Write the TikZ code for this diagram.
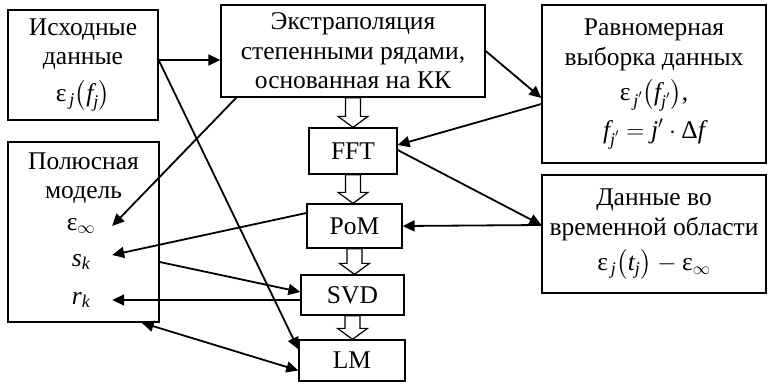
\documentclass[tikz,border=0pt]{standalone}
\usepackage{amsmath}
\usepackage{fontspec}
\setmainfont{Liberation Serif}
\usetikzlibrary{arrows.meta,calc}
\newcommand\ti[1]{\text{\itshape #1}}
\newcommand\eps{\text{ε}}
\newcommand\blockarr[2]{%
  \path let \p1=(#1.south), \p2=(#2.north) in
    [draw, line width=1.2pt, fill=white]
    (\x1-7.5pt,\y1) -- (\x1+7.5pt,\y1) -- (\x1+7.5pt,\y2+11pt) -- (\x1+15pt,\y2+11pt)
    -- (\x1,\y2) -- (\x1-15pt,\y2+11pt) -- (\x1-7.5pt,\y2+11pt) -- cycle;}
\begin{document}
\begin{tikzpicture}[x=1pt,y=-1pt,
  box/.style={draw, line width=1.3pt, inner sep=0pt, align=center,
    font=\fontsize{25.5}{29.5}\selectfont},
  item/.style={inner sep=0pt, minimum width=62pt, align=center,
    font=\fontsize{25.5}{29.5}\selectfont},
  conn/.style={line width=1.8pt, -{Triangle[length=12pt,width=11pt]}},
  conn2/.style={line width=1.8pt, {Triangle[length=12pt,width=11pt]}-{Triangle[length=12pt,width=11pt]}}]
\useasboundingbox (0,0) rectangle (775,383);
\node[box, minimum width=150pt, minimum height=110pt] (A) at (83,65)
  {Исходные\\данные\\[7pt]$\eps_{\,\ti{j}}\bigl(\ti{f}_{\ti{j}}\bigr)$};
\node[box, minimum width=264pt, minimum height=92pt] (B) at (353,51)
  {Экстраполяция\\степенными рядами,\\основанная на КК};
\node[box, minimum width=224pt, minimum height=158pt] (C) at (654,84)
  {Равномерная\\выборка данных\\[6pt]$\eps_{\,\ti{j}'}\bigl(\ti{f}_{\ti{j}'}\bigr)$,\\[7pt]$\ti{f}_{\ti{j}'}=\ti{j}'\cdot\text{Δ}\ti{f}$};
\node[box, minimum width=151pt, minimum height=180pt] (D) at (83.5,232) {};
\node[item] (Dt) at (83.5,178) {Полюсная\\модель};
\node[item] (einf) at (81,226) {$\eps_{\infty}$};
\node[item] (sk) at (81,262) {$\ti{s}_{\ti{k}}$};
\node[item] (rk) at (81,300) {$\ti{r}_{\ti{k}}$};
\node[box, minimum width=88pt, minimum height=46pt] (FFT) at (353,151) {FFT};
\node[box, minimum width=95pt, minimum height=44pt] (PoM) at (354.5,226) {PoM};
\node[box, minimum width=103pt, minimum height=40pt] (SVD) at (352.5,295) {SVD};
\node[box, minimum width=106pt, minimum height=41pt] (LM) at (352,360.5) {LM};
\node[box, minimum width=224pt, minimum height=118pt] (E) at (654,234)
  {Данные во\\временной области\\[6pt]$\eps_{\,\ti{j}}\bigl(\ti{t}_{\ti{j}}\bigr)-\eps_{\infty}$};
\blockarr{B}{FFT}
\blockarr{FFT}{PoM}
\blockarr{PoM}{SVD}
\blockarr{SVD}{LM}
\draw[conn] ($(A.east)+(0,-5)$) -- ($(B.west)+(0,9)$);
\draw[conn] ($(A.east)+(0,-5)$) -- ($(LM.north west)+(0,10)$);
\draw[conn] ($(B.south west)+(16,0)$) -- (einf.east);
\draw[conn] (B.east) -- ($(C.west)+(0,14)$);
\draw[conn] ($(C.west)+(0,20)$) -- ($(FFT.east)+(0,-6)$);
\draw[conn] ($(FFT.east)+(0,-1)$) -- ($(E.west)+(0,-9)$);
\draw[conn] ($(E.west)+(0,-9)$) -- (PoM.east);
\draw[conn] ($(PoM.west)+(0,-13)$) -- ($(sk.east)+(0,-7)$);
\draw[conn] (D.east |- sk.east) -- ($(SVD.west)+(0,-3)$);
\draw[conn] ($(SVD.west)+(0,5)$) -- (rk.east);
\draw[conn2] ($(D.south east)+(-18,0)$) -- ($(LM.west)+(0,10)$);
\end{tikzpicture}
\end{document}
